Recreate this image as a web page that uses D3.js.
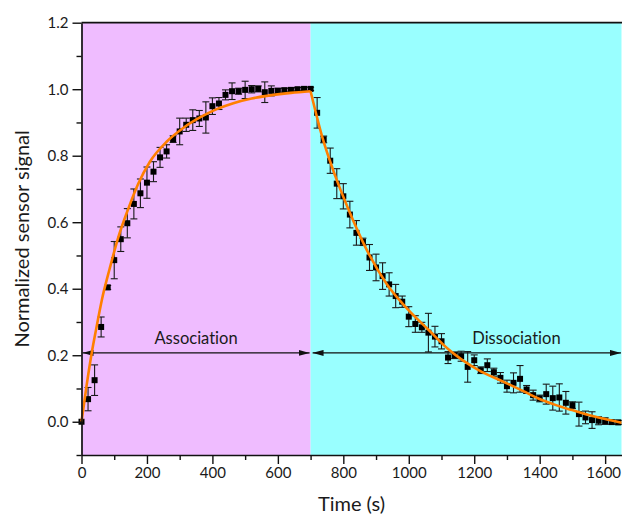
<!DOCTYPE html>
<html>
<head>
<meta charset="utf-8">
<script src="https://cdn.jsdelivr.net/npm/d3@7"></script>
<style>
  body { margin: 0; background: #fff; }
  text { font-family: Lato, "Open Sans", sans-serif; fill: #1a1a1a; font-variant-ligatures: none; }
</style>
</head>
<body>
<svg id="chart" width="622" height="520"></svg>
<script>
// ---- Measured binding kinetics (mean ± error) ----
const assocTime   = [0, 20, 40, 60, 80, 100, 120, 140, 160, 180, 200, 220, 240, 260, 280, 300, 320, 340, 360, 380,
                     400, 420, 440, 460, 480, 500, 520, 540, 560, 580, 600, 620, 640, 660, 680, 700];
const assocSignal = [0.000, 0.068, 0.125, 0.285, 0.404, 0.486, 0.549, 0.597, 0.655, 0.687, 0.719, 0.752, 0.795, 0.813,
                     0.850, 0.873, 0.893, 0.907, 0.912, 0.915, 0.949, 0.957, 0.983, 0.994, 0.994, 0.998, 1.000, 1.001,
                     0.991, 0.995, 0.995, 0.997, 0.998, 1.000, 1.001, 1.001];
const assocError  = [0.000, 0.035, 0.046, 0.030, 0.006, 0.056, 0.037, 0.044, 0.045, 0.043, 0.047, 0.030, 0.030, 0.020,
                     0.010, 0.040, 0.020, 0.031, 0.024, 0.047, 0.025, 0.018, 0.015, 0.025, 0.009, 0.026, 0.011, 0.009,
                     0.031, 0.015, 0.008, 0.006, 0.005, 0.005, 0.005, 0.005];

const dissocTime   = [720, 740, 760, 780, 800, 820, 840, 860, 880, 900, 920, 940, 960, 980, 1000, 1020, 1040, 1060,
                      1080, 1100, 1120, 1140, 1160, 1180, 1200, 1220, 1240, 1260, 1280, 1300, 1320, 1340, 1360, 1380,
                      1400, 1420, 1440, 1460, 1480, 1500, 1520, 1540, 1560, 1580, 1600, 1620, 1640];
const dissocSignal = [0.929, 0.849, 0.785, 0.716, 0.678, 0.623, 0.568, 0.541, 0.494, 0.464, 0.438, 0.413, 0.378, 0.361,
                      0.316, 0.294, 0.284, 0.268, 0.256, 0.242, 0.193, 0.200, 0.197, 0.165, 0.185, 0.155, 0.170, 0.149,
                      0.132, 0.107, 0.117, 0.129, 0.097, 0.080, 0.070, 0.083, 0.071, 0.073, 0.057, 0.050, 0.023, 0.013,
                      0.005, 0.003, 0.002, -0.001, -0.002];
const dissocError  = [0.046, 0.010, 0.038, 0.045, 0.038, 0.040, 0.037, 0.011, 0.039, 0.040, 0.040, 0.035, 0.035, 0.017,
                      0.030, 0.025, 0.015, 0.058, 0.031, 0.023, 0.018, 0.010, 0.015, 0.046, 0.016, 0.010, 0.019, 0.012,
                      0.016, 0.018, 0.030, 0.040, 0.012, 0.015, 0.010, 0.030, 0.036, 0.041, 0.034, 0.010, 0.036, 0.019,
                      0.025, 0.012, 0.010, 0.006, 0.006];

// ---- Fitted kinetic curves (sampled) ----
const assocFitTime    = [0, 15, 30, 45, 63, 86, 111, 142, 173, 209, 260, 313, 362, 413, 464, 520, 566, 640, 700];
const assocFitSignal  = [0.000, 0.105, 0.200, 0.280, 0.370, 0.460, 0.550, 0.638, 0.715, 0.782, 0.842, 0.885, 0.915,
                         0.940, 0.958, 0.972, 0.980, 0.989, 0.994];
const dissocFitTime   = [700, 736, 775, 813, 870, 932, 1000, 1061, 1121, 1163, 1223, 1290, 1350, 1396, 1450, 1499,
                         1550, 1600, 1650];
const dissocFitSignal = [0.994, 0.855, 0.740, 0.645, 0.520, 0.415, 0.335, 0.276, 0.218, 0.186, 0.150, 0.120, 0.092,
                         0.070, 0.050, 0.035, 0.020, 0.008, -0.003];

// ---- Phases and axes ----
const phaseNames  = ["Association", "Dissociation"];
const phaseStart  = [0, 700];
const phaseEnd    = [700, 1650];
const phaseColors = ["#efbcff", "#99ffff"];
const arrowLevel  = 0.207;

const xTicks      = [0, 200, 400, 600, 800, 1000, 1200, 1400, 1600];
const xMinorTicks = [100, 300, 500, 700, 900, 1100, 1300, 1500];
const yTicks      = [0.0, 0.2, 0.4, 0.6, 0.8, 1.0, 1.2];
const yMinorTicks = [-0.1, 0.1, 0.3, 0.5, 0.7, 0.9, 1.1];

// ---- Layout ----
const plotLeft = 81.5, plotRight = 621.5, plotTop = 22.7, plotBottom = 455;
const svg = d3.select("#chart");

const x = d3.scaleLinear().domain([0, 1650]).range([plotLeft, plotRight]);
const y = d3.scaleLinear().domain([-0.1, 1.2]).range([plotBottom, plotTop]);

// phase backgrounds
svg.append("g").selectAll("rect")
  .data(phaseNames)
  .join("rect")
  .attr("x", (d, i) => x(phaseStart[i]))
  .attr("width", (d, i) => x(phaseEnd[i]) - x(phaseStart[i]))
  .attr("y", y(1.2))
  .attr("height", y(-0.1) - y(1.2))
  .attr("fill", (d, i) => phaseColors[i]);

// phase arrows
const defs = svg.append("defs");
defs.append("marker")
  .attr("id", "head")
  .attr("viewBox", "0 0 11 6")
  .attr("refX", 11).attr("refY", 3)
  .attr("markerWidth", 11).attr("markerHeight", 6)
  .attr("markerUnits", "userSpaceOnUse")
  .attr("orient", "auto-start-reverse")
  .append("path").attr("d", "M0,0 L11,3 L0,6 Z").attr("fill", "#111");

const arrows = svg.append("g");
phaseNames.forEach((name, i) => {
  arrows.append("line")
    .attr("x1", x(phaseStart[i]) + (i === 0 ? 1 : 2))
    .attr("x2", x(phaseEnd[i]) - (i === 0 ? 1 : 0.5))
    .attr("y1", y(arrowLevel)).attr("y2", y(arrowLevel))
    .attr("stroke", "#111").attr("stroke-width", 1.1)
    .attr("marker-start", "url(#head)")
    .attr("marker-end", "url(#head)");
});

arrows.append("text")
  .attr("x", x(350)).attr("y", y(arrowLevel) - 9)
  .attr("text-anchor", "middle")
  .attr("font-size", 16.5)
  .text(phaseNames[0]);
arrows.append("text")
  .attr("x", x(1194)).attr("y", y(arrowLevel) - 9)
  .attr("text-anchor", "start")
  .attr("font-size", 16.5)
  .text(phaseNames[1]);

// data points with error bars
const points = assocTime.map((t, i) => ({ t, v: assocSignal[i], e: assocError[i] }))
  .concat(dissocTime.map((t, i) => ({ t, v: dissocSignal[i], e: dissocError[i] })));

const capHalf = 3.5;
const bars = svg.append("g").attr("stroke", "#1a1a1a").attr("stroke-width", 1.1)
  .selectAll("g").data(points.filter(d => d.e > 0)).join("g");
bars.append("line")
  .attr("x1", d => x(d.t)).attr("x2", d => x(d.t))
  .attr("y1", d => y(d.v + d.e)).attr("y2", d => y(d.v - d.e));
bars.append("line")
  .attr("x1", d => x(d.t) - capHalf).attr("x2", d => x(d.t) + capHalf)
  .attr("y1", d => y(d.v + d.e)).attr("y2", d => y(d.v + d.e));
bars.append("line")
  .attr("x1", d => x(d.t) - capHalf).attr("x2", d => x(d.t) + capHalf)
  .attr("y1", d => y(d.v - d.e)).attr("y2", d => y(d.v - d.e));

const sq = 6;
svg.append("g").selectAll("rect")
  .data(points)
  .join("rect")
  .attr("x", d => x(d.t) - sq / 2)
  .attr("y", d => y(d.v) - sq / 2)
  .attr("width", sq).attr("height", sq)
  .attr("fill", "#000");

// fitted curves
const fitLine = d3.line().x(d => x(d[0])).y(d => y(d[1])).curve(d3.curveMonotoneX);
const fitG = svg.append("g").attr("fill", "none").attr("stroke", "#ff7f00")
  .attr("stroke-width", 2.6).attr("stroke-linejoin", "round");
fitG.append("path").attr("d", fitLine(assocFitTime.map((t, i) => [t, assocFitSignal[i]])));
fitG.append("path").attr("d", fitLine(dissocFitTime.map((t, i) => [t, dissocFitSignal[i]])));

// axes
const axisFont = 15;
svg.append("g").attr("class", "x-axis").attr("transform", `translate(0,${plotBottom})`)
  .call(d3.axisBottom(x).tickValues(xTicks).tickSize(9).tickSizeOuter(0).tickPadding(3).tickFormat(d3.format("d")));
svg.append("g").attr("transform", `translate(0,${plotBottom})`)
  .call(d3.axisBottom(x).tickValues(xMinorTicks).tickSize(5).tickSizeOuter(0).tickFormat(""))
  .call(g => g.select(".domain").remove());

svg.append("g").attr("transform", `translate(${plotLeft},0)`)
  .call(d3.axisLeft(y).tickValues(yTicks).tickSize(9).tickSizeOuter(0).tickPadding(4).tickFormat(d3.format(".1f")));
svg.append("g").attr("transform", `translate(${plotLeft},0)`)
  .call(d3.axisLeft(y).tickValues(yMinorTicks).tickSize(5).tickSizeOuter(0).tickFormat(""))
  .call(g => g.select(".domain").remove());

svg.selectAll(".domain").attr("stroke", "#111").attr("stroke-width", 1.7);
svg.selectAll(".tick line").attr("stroke", "#111").attr("stroke-width", 1.4);
svg.selectAll(".tick text").attr("font-size", axisFont).attr("fill", "#1a1a1a")
  .style("font-family", 'Lato, "Open Sans", sans-serif');
// keep the last time label inside the canvas edge
svg.select(".x-axis").selectAll(".tick text").filter(d => d === 1600).attr("dx", -2);

// top frame
svg.append("line")
  .attr("x1", plotLeft).attr("x2", plotRight + 1)
  .attr("y1", plotTop).attr("y2", plotTop)
  .attr("stroke", "#111").attr("stroke-width", 1.7);

// axis titles
svg.append("text")
  .attr("x", (plotLeft + plotRight) / 2).attr("y", 511)
  .attr("text-anchor", "middle").attr("font-size", 20)
  .text("Time (s)");
svg.append("text")
  .attr("transform", `translate(29,${(plotTop + plotBottom) / 2}) rotate(-90)`)
  .attr("text-anchor", "middle").attr("font-size", 20)
  .text("Normalized sensor signal");
</script>
</body>
</html>
